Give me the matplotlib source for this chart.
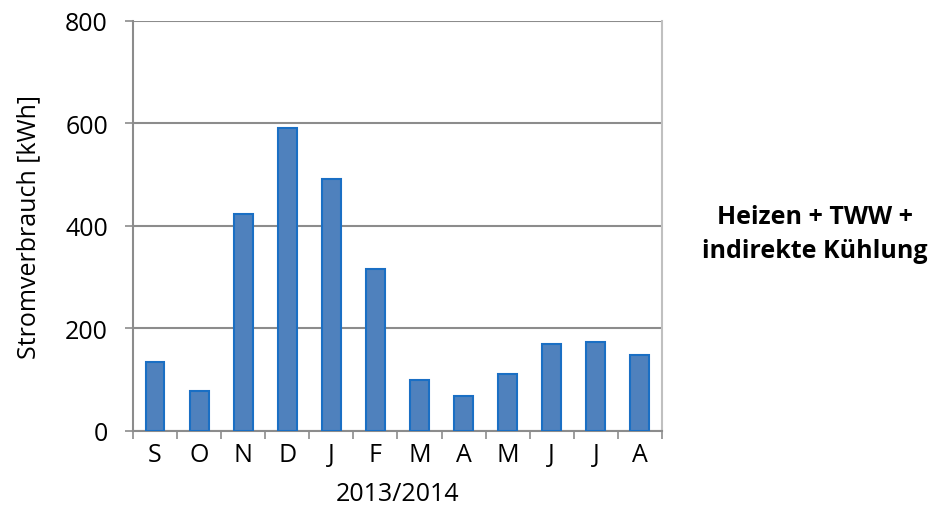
import matplotlib
matplotlib.use("Agg")
import matplotlib.pyplot as plt
import numpy as np

plt.rcParams['font.family'] = ['Open Sans', 'DejaVu Sans']

months = ['S', 'O', 'N', 'D', 'J', 'F', 'M', 'A', 'M', 'J', 'J', 'A']
verbrauch = [135, 77, 422, 591, 492, 315, 99, 68, 111, 170, 174, 148]
yticks = [0, 200, 400, 600, 800]

grau = '#8c8c8c'
fs = 18

fig = plt.figure(figsize=(9.39, 5.06), dpi=100)
ax = fig.add_axes([0.1416, 0.1468, 0.705 - 0.1416, 0.957 - 0.1468])

x = np.arange(len(months))
ax.bar(x, verbrauch, width=0.43, color='#4f81bd', edgecolor='#1a6fc4',
       linewidth=1.5, zorder=3)

ax.set_xlim(-0.5, len(months) - 0.5)
ax.set_ylim(0, 800)
ax.set_yticks(yticks)
ax.yaxis.grid(True, color=grau, linewidth=1.5, zorder=0)

# Kategorie-Beschriftung mittig, Striche zwischen den Monaten
ax.set_xticks(x)
ax.set_xticklabels(months)
ax.tick_params(axis='x', which='major', length=0, pad=8, labelsize=fs)
ax.set_xticks(np.arange(-0.5, len(months)), minor=True)
ax.tick_params(axis='x', which='minor', length=6, width=1.2, color=grau,
               direction='out')
ax.tick_params(axis='y', length=6, width=1.2, color=grau, labelsize=fs, pad=12)

for s in ['left', 'bottom', 'right']:
    ax.spines[s].set_color(grau)
    ax.spines[s].set_linewidth(1.5)
ax.spines['right'].set_color('#c0c0c0')
ax.spines['top'].set_visible(False)

ax.set_ylabel('Stromverbrauch [kWh]', fontsize=fs, labelpad=17)
ax.set_xlabel('2013/2014', fontsize=fs, labelpad=10)

fig.text(0.868, 0.537, 'Heizen + TWW +\nindirekte Kühlung', fontsize=fs,
         fontweight='bold', ha='center', va='center', linespacing=1.45)

fig.savefig('out.png', dpi=100)
